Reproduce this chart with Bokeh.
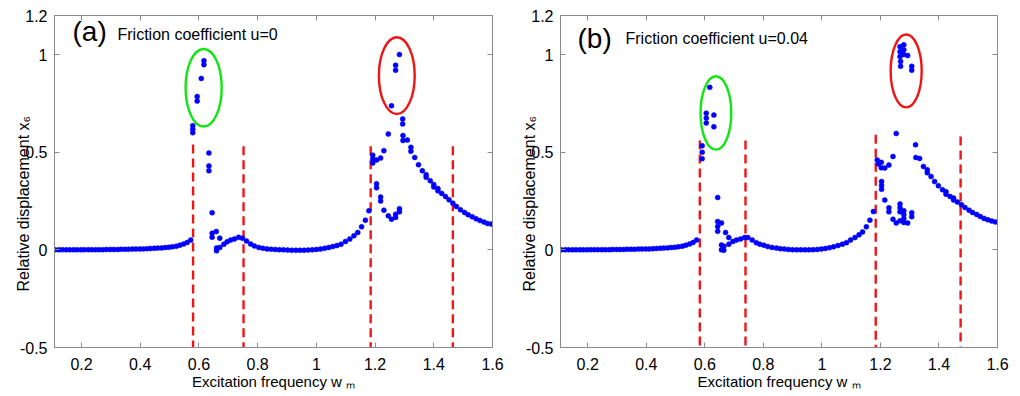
from bokeh.plotting import figure
from bokeh.models import Label, LinearAxis, FixedTicker, Range1d
from bokeh.layouts import row
from bokeh.embed import file_html
from bokeh.resources import INLINE

FONT = "Liberation Sans"

# ---------------- data ----------------
x_ticks = [0.2, 0.4, 0.6, 0.8, 1.0, 1.2, 1.4, 1.6]
x_tick_labels = ["0.2", "0.4", "0.6", "0.8", "1", "1.2", "1.4", "1.6"]
y_ticks = [-0.5, 0.0, 0.5, 1.0, 1.2]
y_tick_labels = ["-0.5", "0", "0.5", "1", "1.2"]

x_label = "Excitation frequency w \u2098"
y_label = "Relative displacement x\u2086"

# low-frequency baseline (same in both panels)
base_x = [0.110, 0.123, 0.135, 0.148, 0.160, 0.173, 0.185, 0.198, 0.210, 0.223, 0.235, 0.248, 0.260,
          0.273, 0.285, 0.298, 0.310, 0.323, 0.335, 0.348, 0.360, 0.373, 0.385, 0.398, 0.410, 0.423,
          0.435, 0.448, 0.460, 0.473, 0.485, 0.498, 0.510, 0.523, 0.535, 0.548, 0.560, 0.572]
base_y = [0.000, 0.000, 0.000, 0.000, 0.000, 0.000, 0.000, 0.000, 0.001, 0.001, 0.001, 0.001, 0.001,
          0.001, 0.002, 0.002, 0.002, 0.002, 0.003, 0.003, 0.003, 0.004, 0.004, 0.005, 0.005, 0.006,
          0.007, 0.008, 0.009, 0.010, 0.012, 0.013, 0.016, 0.019, 0.024, 0.030, 0.038, 0.050]

# panel (a): friction u = 0
a1_x = [0.579, 0.579, 0.579, 0.594, 0.594, 0.608, 0.617, 0.617, 0.634, 0.634, 0.634, 0.645, 0.645, 0.645,
        0.659, 0.671, 0.660, 0.660, 0.671, 0.685, 0.696, 0.708, 0.721, 0.735, 0.748, 0.762, 0.776, 0.789,
        0.804, 0.818]
a1_y = [0.600, 0.618, 0.636, 0.762, 0.785, 0.878, 0.948, 0.968, 0.496, 0.405, 0.430, 0.190, 0.065, 0.085,
        0.094, 0.060, -0.005, 0.010, 0.012, 0.029, 0.041, 0.050, 0.056, 0.064, 0.060, 0.045, 0.030, 0.020,
        0.012, 0.008]
am_x = [0.832, 0.846, 0.860, 0.874, 0.888, 0.902, 0.916, 0.930, 0.944, 0.958, 0.972, 0.986, 1.000, 1.014,
        1.028, 1.042, 1.056, 1.070, 1.084]
am_y = [0.005, 0.003, 0.002, 0.001, 0.000, -0.001, -0.002, -0.002, -0.002, -0.002, -0.001, 0.000, 0.002,
        0.004, 0.008, 0.012, 0.017, 0.022, 0.029]
a2_x = [1.099, 1.114, 1.128, 1.141, 1.154, 1.167, 1.179,
        1.192, 1.192, 1.192, 1.205, 1.219, 1.230, 1.245, 1.256, 1.270, 1.270, 1.283,
        1.294, 1.294, 1.295, 1.295, 1.310, 1.322, 1.322, 1.335, 1.348, 1.361, 1.374, 1.374, 1.388, 1.400,
        1.400, 1.414, 1.414, 1.427, 1.440, 1.452, 1.465, 1.477, 1.491, 1.505, 1.517, 1.531, 1.544, 1.557,
        1.571, 1.583, 1.596,
        1.205, 1.205, 1.219, 1.219, 1.230, 1.245, 1.256, 1.270, 1.270, 1.283, 1.283]
a2_y = [0.043, 0.055, 0.072, 0.089, 0.118, 0.152, 0.200,
        0.445, 0.465, 0.485, 0.460, 0.470, 0.508, 0.593, 0.738, 0.920, 0.945, 1.000,
        0.645, 0.670, 0.560, 0.585, 0.562, 0.505, 0.525, 0.473, 0.436, 0.405, 0.372, 0.385, 0.354, 0.322,
        0.334, 0.302, 0.314, 0.289, 0.273, 0.256, 0.239, 0.222, 0.205, 0.191, 0.180, 0.169, 0.159, 0.150,
        0.142, 0.135, 0.132,
        0.318, 0.338, 0.250, 0.270, 0.203, 0.174, 0.157, 0.166, 0.182, 0.195, 0.211]

# panel (b): friction u = 0.04
b1_x = [0.591, 0.591, 0.591, 0.605, 0.605, 0.605, 0.617, 0.631, 0.631,
        0.644, 0.644, 0.644, 0.644, 0.657, 0.671, 0.682, 0.657, 0.657, 0.665, 0.665, 0.682, 0.696, 0.708,
        0.722, 0.736, 0.747, 0.762, 0.776, 0.788, 0.802, 0.815, 0.830, 0.845]
b1_y = [0.467, 0.500, 0.533, 0.650, 0.675, 0.700, 0.832, 0.690, 0.630,
        0.268, 0.145, 0.120, 0.095, 0.137, 0.089, 0.063, 0.025, 0.000, 0.018, -0.002, 0.029, 0.043, 0.050,
        0.055, 0.063, 0.063, 0.050, 0.037, 0.029, 0.024, 0.017, 0.012, 0.009]
bm_x = [0.858, 0.872, 0.886, 0.900, 0.914, 0.928, 0.942, 0.956, 0.970, 0.984, 0.998, 1.012, 1.026, 1.040,
        1.055]
bm_y = [0.006, 0.004, 0.002, 0.001, 0.000, 0.000, 0.000, 0.000, 0.001, 0.002, 0.004, 0.007, 0.011, 0.016,
        0.022]
b2_x = [1.070, 1.084, 1.098, 1.113, 1.127, 1.139, 1.152, 1.164, 1.176,
        1.189, 1.193, 1.203, 1.203, 1.215, 1.229, 1.243, 1.254,
        1.267, 1.267, 1.267, 1.269, 1.269, 1.280, 1.280, 1.280, 1.293, 1.307, 1.307,
        1.320, 1.321, 1.334, 1.347, 1.360, 1.360, 1.373, 1.385, 1.398, 1.412, 1.424, 1.424, 1.438, 1.450,
        1.450, 1.463, 1.477, 1.489, 1.503, 1.515, 1.529, 1.541, 1.554, 1.567, 1.580, 1.593,
        1.204, 1.204, 1.204, 1.215, 1.229, 1.229, 1.243, 1.254, 1.267, 1.267, 1.267, 1.267, 1.280, 1.280,
        1.280, 1.280, 1.293, 1.307, 1.307]
b2_y = [0.029, 0.037, 0.050, 0.063, 0.077, 0.092, 0.118, 0.152, 0.196,
        0.460, 0.440, 0.448, 0.420, 0.419, 0.434, 0.478, 0.596,
        1.040, 1.015, 0.990, 0.965, 0.940, 1.050, 1.025, 1.000, 0.995, 0.940, 0.920,
        0.538, 0.473, 0.468, 0.427, 0.410, 0.395, 0.376, 0.350, 0.328, 0.308, 0.298, 0.285, 0.273, 0.265,
        0.255, 0.245, 0.231, 0.217, 0.203, 0.191, 0.181, 0.171, 0.161, 0.154, 0.148, 0.143,
        0.350, 0.330, 0.310, 0.255, 0.215, 0.195, 0.157, 0.137, 0.235, 0.215, 0.195, 0.149, 0.200, 0.180,
        0.160, 0.140, 0.137, 0.190, 0.170]

# red dashed boundaries (frequency, top of dashed line)
a_bound_x = [0.580, 0.752, 1.185, 1.465]
a_bound_top = [0.54, 0.53, 0.53, 0.53]
b_bound_x = [0.583, 0.739, 1.184, 1.474]
b_bound_top = [0.56, 0.56, 0.59, 0.58]

# highlighted regions (centre x, centre y, width, height)
a_ell_x = [0.616, 1.274]
a_ell_y = [0.830, 0.892]
a_ell_w = [0.123, 0.122]
a_ell_h = [0.397, 0.393]
b_ell_x = [0.638, 1.288]
b_ell_y = [0.701, 0.916]
b_ell_w = [0.105, 0.106]
b_ell_h = [0.376, 0.373]
ell_colors = ["#12e612", "#f01414"]

AXIS_COLOR = "#8a8a8a"
NBSP_PAD = "\u00a0" * 10   # shifts the rotated label down, as in the original


def make_panel(xs, ys, bx, btop, ex, ey, ew, eh, xstart, bl, fw, br, tag, title, tag_xy, title_xy):
    p = figure(frame_width=fw, frame_height=332, x_range=Range1d(xstart, 1.6), y_range=Range1d(-0.5, 1.2),
               output_backend="svg", toolbar_location=None, min_border_left=bl, min_border_right=br,
               min_border_top=15, min_border_bottom=49, background_fill_color="white",
               border_fill_color="white")
    p.grid.visible = False
    p.outline_line_color = AXIS_COLOR

    p.add_layout(LinearAxis(), "above")
    p.add_layout(LinearAxis(), "right")
    for ax in p.xaxis:
        ax.ticker = FixedTicker(ticks=x_ticks)
    for ax in p.yaxis:
        ax.ticker = FixedTicker(ticks=y_ticks)
    for ax in p.axis:
        ax.axis_line_color = AXIS_COLOR
        ax.major_tick_line_color = AXIS_COLOR
        ax.major_tick_in = 5
        ax.major_tick_out = 0
        ax.minor_tick_line_color = None
        ax.major_label_text_font = FONT
        ax.major_label_text_font_size = "16px"
        ax.major_label_text_color = "black"
        ax.axis_label_text_font = FONT
        ax.axis_label_text_font_style = "normal"
        ax.axis_label_text_color = "black"
    bot = p.below[0]
    bot.major_label_overrides = dict(zip(x_ticks, x_tick_labels))
    bot.major_label_standoff = 10
    bot.axis_label = x_label
    bot.axis_label_text_font_size = "15px"
    bot.axis_label_standoff = 0
    lft = p.left[0]
    lft.major_label_overrides = dict(zip(y_ticks, y_tick_labels))
    lft.major_label_standoff = 7
    lft.axis_label = y_label + NBSP_PAD
    lft.axis_label_text_font_size = "16px"
    lft.axis_label_standoff = -15
    p.above[0].major_label_overrides = {t: "" for t in x_ticks}
    p.right[0].major_label_overrides = {t: "" for t in y_ticks}
    p.above[0].major_label_standoff = 0
    p.right[0].major_label_standoff = 0

    p.segment(x0=bx, y0=btop, x1=bx, y1=-0.5, line_color="#f01414", line_width=2.4, line_dash="9 5")
    p.ellipse(x=ex, y=ey, width=ew, height=eh, fill_color=None, line_color=ell_colors, line_width=2.4)
    p.scatter(xs, ys, size=5, fill_color="#0000ff", line_color="#0000ff", line_width=0.5)

    common = dict(x_units="screen", y_units="screen", text_font=FONT, text_color="black",
                  text_baseline="alphabetic")
    p.add_layout(Label(x=tag_xy[0], y=tag_xy[1], text=tag, text_font_size="28px", **common))
    p.add_layout(Label(x=title_xy[0], y=title_xy[1], text=title, text_font_size="16px", **common))
    return p


pa = make_panel(base_x + a1_x + am_x + a2_x, base_y + a1_y + am_y + a2_y, a_bound_x, a_bound_top,
                a_ell_x, a_ell_y, a_ell_w, a_ell_h, 0.108, 54, 438, 18,
                "(a)", "Friction coefficient u=0", (18, 316), (63, 313))
pb = make_panel(base_x + b1_x + bm_x + b2_x, base_y + b1_y + bm_y + b2_y, b_bound_x, b_bound_top,
                b_ell_x, b_ell_y, b_ell_w, b_ell_h, 0.107, 50, 437, 23,
                "(b)", "Friction coefficient u=0.04", (17, 309), (65, 309))

layout = row(pa, pb)
open("out.html", "w").write(file_html(layout, INLINE))
